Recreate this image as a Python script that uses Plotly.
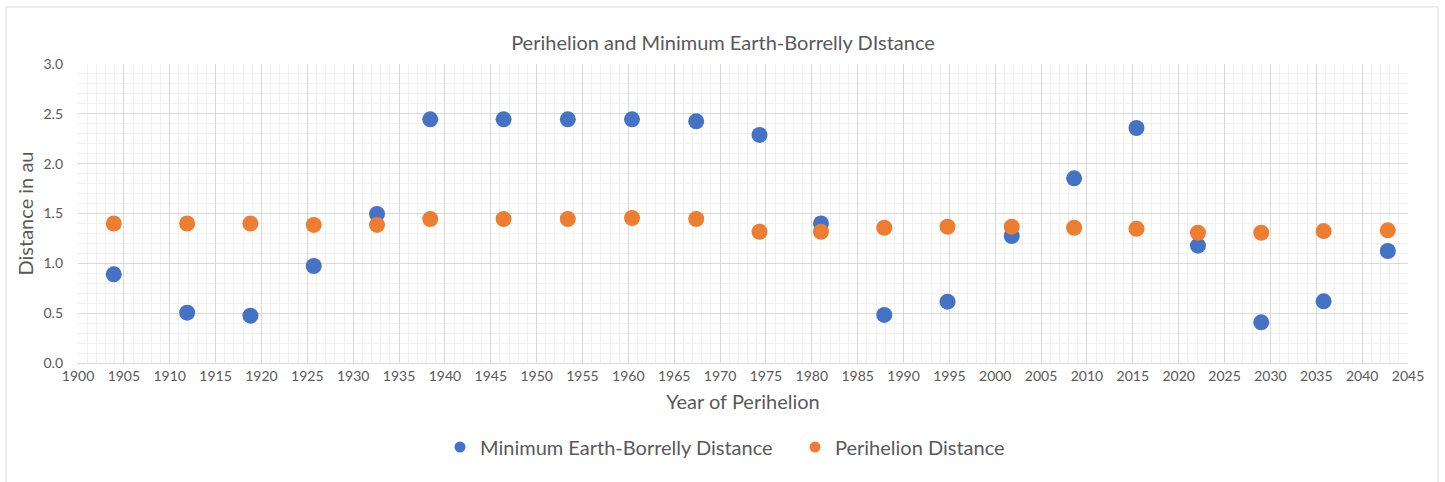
import plotly.graph_objects as go

# Perihelion passages of comet Borrelly
years = [1903.9, 1911.9, 1918.8, 1925.7, 1932.6, 1938.4, 1946.4, 1953.4, 1960.4,
         1967.4, 1974.3, 1981.0, 1987.9, 1994.8, 2001.8, 2008.6, 2015.4, 2022.1,
         2029.0, 2035.8, 2042.8]
min_earth_dist = [0.89, 0.505, 0.475, 0.973, 1.495, 2.445, 2.445, 2.445, 2.445,
                  2.425, 2.288, 1.40, 0.482, 0.615, 1.274, 1.853, 2.358, 1.177,
                  0.408, 0.619, 1.124]
perihelion_dist = [1.40, 1.40, 1.40, 1.385, 1.385, 1.445, 1.445, 1.445, 1.455,
                   1.445, 1.317, 1.317, 1.357, 1.368, 1.368, 1.357, 1.347, 1.307,
                   1.307, 1.324, 1.331]

series_names = ["Minimum Earth-Borrelly Distance", "Perihelion Distance"]
series_colors = ["#4472C4", "#ED7D31"]

FONT = "Lato, Carlito, 'Open Sans', sans-serif"
TEXT = "#595959"

W, H = 1445, 482
L, R, T, B = 78, 37, 64, 119
pw, ph = W - L - R, H - T - B

fig = go.Figure()
for name, vals, col in zip(series_names, [min_earth_dist, perihelion_dist], series_colors):
    fig.add_trace(go.Scatter(x=years, y=vals, mode="markers", name=name,
                             showlegend=False,
                             marker=dict(size=16, color=col)))
    # smaller legend swatch
    fig.add_trace(go.Scatter(x=[None], y=[None], mode="markers", name=name,
                             marker=dict(size=11, color=col)))

# chart frame
fx0, fx1 = 6, 1438
fy0, fy1 = 7, 495
fig.add_shape(type="rect", xref="paper", yref="paper",
              x0=(fx0 - L) / pw, x1=(fx1 - L) / pw,
              y0=(H - B - fy1) / ph, y1=(H - B - fy0) / ph,
              line=dict(color="#D9D9D9", width=1), layer="below")

fig.update_layout(
    width=W, height=H,
    margin=dict(l=L, r=R, t=T, b=B),
    paper_bgcolor="white", plot_bgcolor="white",
    font=dict(family=FONT, color=TEXT),
    title=dict(text="Perihelion and Minimum Earth-Borrelly DIstance",
               x=723 / W, xanchor="center", y=1 - 43 / H, yanchor="middle",
               font=dict(size=20, color=TEXT, family=FONT)),
    showlegend=True,
    legend=dict(orientation="h", x=(440 - L) / pw, xanchor="left",
                y=(H - B - 447) / ph, yanchor="middle",
                font=dict(size=20, color=TEXT, family=FONT),
                itemwidth=30, entrywidth=310, entrywidthmode="pixels",
                bgcolor="rgba(0,0,0,0)"),
)

fig.update_xaxes(
    range=[1900, 2045], tick0=1900, dtick=5, tickformat="d",
    showgrid=True, gridcolor="#D9D9D9", gridwidth=1,
    minor=dict(dtick=1, tick0=1900, showgrid=True, gridcolor="#F0F0F0", gridwidth=1),
    showline=True, linecolor="#D9D9D9", mirror=False,
    zeroline=False, ticks="",
    tickfont=dict(size=14, color=TEXT, family=FONT),
    title=dict(text="Year of Perihelion", font=dict(size=20, color=TEXT, family=FONT),
               standoff=12),
)
fig.update_yaxes(
    range=[0, 3], dtick=0.5, tickformat=".1f",
    showgrid=True, gridcolor="#D9D9D9", gridwidth=1,
    minor=dict(dtick=0.1, showgrid=True, gridcolor="#F0F0F0", gridwidth=1),
    zeroline=False, ticks="", ticklabelstandoff=14,
    tickfont=dict(size=14, color=TEXT, family=FONT),
    title=dict(text="Distance in au", font=dict(size=20, color=TEXT, family=FONT),
               standoff=4),
)

fig.write_html("out.html")
